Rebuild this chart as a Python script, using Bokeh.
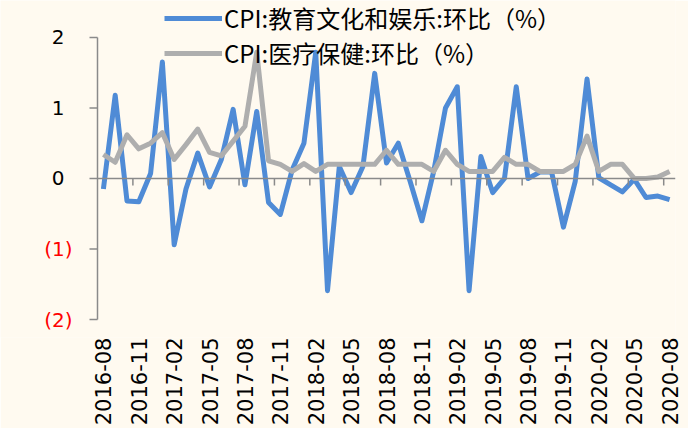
import math
from bokeh.plotting import figure
from bokeh.models import Range1d, FixedTicker, Legend, LegendItem, ColumnDataSource
from bokeh.core.properties import value
from bokeh.embed import file_html
from bokeh.resources import INLINE

# ---- data ----
months = [f"{y}-{m:02d}" for y in range(2016, 2021) for m in range(1, 13)
          if (2016, 8) <= (y, m) <= (2020, 8)]

edu = [-0.15, 1.18, -0.32, -0.33, 0.07,
       1.65, -0.94, -0.15, 0.36, -0.12, 0.27, 0.98, -0.09, 0.95, -0.34, -0.51, 0.12,
       0.50, 1.79, -1.59, 0.17, -0.20, 0.17, 1.49, 0.22, 0.50, -0.04, -0.60, 0.10,
       1.00, 1.30, -1.59, 0.31, -0.20, 0.00, 1.30, 0.00, 0.09, 0.09, -0.69, -0.04,
       1.41, 0.01, -0.09, -0.19, -0.01, -0.27, -0.25, -0.30]

med = [0.34, 0.23, 0.62, 0.42, 0.50,
       0.65, 0.27, 0.48, 0.70, 0.37, 0.32, 0.53, 0.74, 1.79, 0.25, 0.20, 0.10,
       0.21, 0.10, 0.20, 0.20, 0.20, 0.20, 0.20, 0.40, 0.20, 0.20, 0.20, 0.10,
       0.40, 0.20, 0.10, 0.10, 0.10, 0.30, 0.20, 0.20, 0.10, 0.10, 0.10, 0.20,
       0.60, 0.10, 0.20, 0.20, 0.00, 0.00, 0.02, 0.10]

series_names = ["CPI:教育文化和娱乐:环比（%）", "CPI:医疗保健:环比（%）"]

y_ticks = [-2, -1, 0, 1, 2]
y_tick_labels = ["(2)", "(1)", "0", "1", "2"]
y_tick_colors = ["#FF0000", "#FF0000", "#000000", "#000000", "#000000"]
x_tick_step = 3

# ---- style / geometry ----
BG = "#FFFAF0"
BLUE = "#4F8BD6"
GRAY = "#AEAEAE"
AXIS = "#8A8A8A"

W, H = 688, 428
LEFT_PX, RIGHT_PX = 97, 13       # space left / right of the data area
AXIS_TOP_PX = 37                 # "2" tick distance from the top
AXIS_LEN_PX = 283                # length of the y axis (from 2 to -2)
BELOW_AXIS_PX = 18               # gap between the -2 tick and the date labels
FRAME_H = AXIS_TOP_PX + AXIS_LEN_PX + BELOW_AXIS_PX
n = len(months)
px_per_x = (W - LEFT_PX - RIGHT_PX) / n
x_lo = -0.5 - LEFT_PX / px_per_x
y_lo, y_hi = -2, 2
px_per_y = AXIS_LEN_PX / (y_hi - y_lo)
y_top = y_hi + AXIS_TOP_PX / px_per_y
y_bot = y_lo - BELOW_AXIS_PX / px_per_y

x = list(range(n))

p = figure(width=W, height=H, output_backend="svg", toolbar_location=None,
           x_range=Range1d(x_lo, n - 0.5), y_range=Range1d(y_bot, y_top),
           min_border_left=0, min_border_right=RIGHT_PX, min_border_top=0,
           min_border_bottom=H - FRAME_H,
           background_fill_color=BG, border_fill_color=BG,
           outline_line_color=None)
p.grid.visible = False
p.yaxis.visible = False

# lines
r1 = p.line(x, edu, line_color=BLUE, line_width=5, line_join="round")
r2 = p.line(x, med, line_color=GRAY, line_width=5, line_join="round")

# zero axis line with category-boundary ticks
p.segment(x0=[-0.5], x1=[n - 0.5], y0=[0], y1=[0], line_color=AXIS, line_width=1.5)
tick_x = [i + 0.5 for i in range(2, n - 1, x_tick_step)]
p.ray(x=tick_x, y=[0] * len(tick_x), length=7, length_units="screen",
      angle=-math.pi / 2, line_color=AXIS, line_width=1.5)

# y axis: line, outward ticks, coloured labels
p.segment(x0=[-0.5], x1=[-0.5], y0=[y_lo], y1=[y_hi], line_color=AXIS, line_width=1.5)
p.ray(x=[-0.5] * len(y_ticks), y=y_ticks, length=8, length_units="screen",
      angle=math.pi, line_color=AXIS, line_width=1.5)
ysrc = ColumnDataSource(dict(
    x=[-0.5] * len(y_ticks), y=y_ticks, text=y_tick_labels, color=y_tick_colors,
    xoff=[-25 if t < 0 else -33 for t in y_ticks]))
p.text(x="x", y="y", text="text", source=ysrc, text_color="color", x_offset="xoff",
       text_align="right", text_baseline="middle",
       text_font=value("DejaVu Sans"), text_font_size=value("20px"))

# x axis (labels only)
xa = p.xaxis[0]
xa.ticker = FixedTicker(ticks=list(range(0, n, x_tick_step)))
xa.major_label_overrides = {i: months[i] for i in range(0, n, x_tick_step)}
xa.major_label_orientation = math.pi / 2
xa.axis_line_color = None
xa.major_tick_line_color = None
xa.minor_tick_line_color = None
xa.major_tick_out = 0
xa.major_tick_in = 0
xa.major_label_standoff = 0
xa.major_label_text_font = "DejaVu Sans"
xa.major_label_text_font_size = "21px"
xa.major_label_text_color = "#000000"

legend = Legend(items=[LegendItem(label=series_names[0], renderers=[r1]),
                       LegendItem(label=series_names[1], renderers=[r2])],
                location=(LEFT_PX + 67, FRAME_H - 71), orientation="vertical",
                border_line_color=None, background_fill_alpha=0,
                padding=0, margin=0, spacing=0, glyph_width=58, glyph_height=24,
                label_height=24, label_standoff=2,
                label_text_font="Noto Sans CJK SC", label_text_font_size="24px",
                label_text_color="#000000")
p.add_layout(legend)

open("out.html", "w").write(file_html(p, INLINE))
